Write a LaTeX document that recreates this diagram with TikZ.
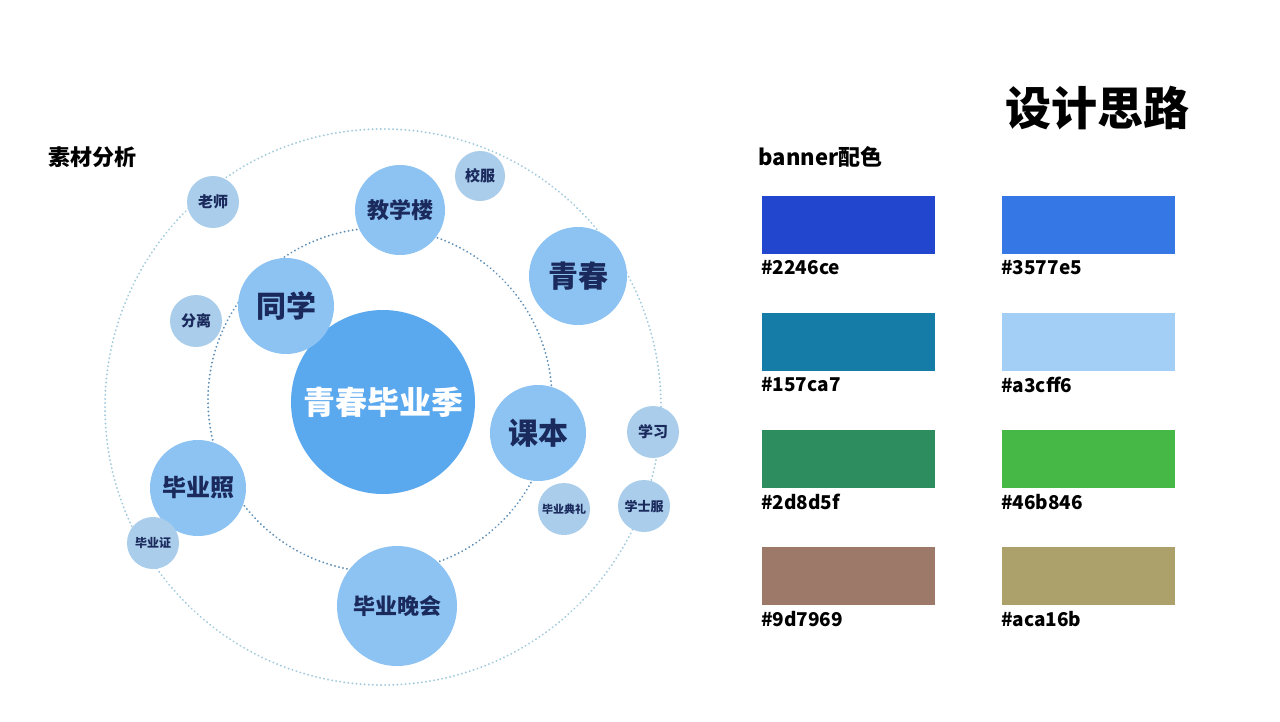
\documentclass[tikz,border=0pt]{standalone}
\usepackage{fontspec}
\setmainfont{Noto Sans CJK SC}
\begin{document}
\begin{tikzpicture}[x=1pt,y=-1pt,
  big/.style={circle,fill=#1,inner sep=0pt,font=\bfseries,text=navy},
  tx/.style={font=\bfseries,anchor=west}]
\definecolor{navy}{HTML}{1B2A5C}
\definecolor{cbig}{HTML}{5AA8EE}
\definecolor{cmid}{HTML}{8DC3F2}
\definecolor{csm}{HTML}{A9CDEA}
\definecolor{dots}{HTML}{9FC9DD}
\definecolor{dots2}{HTML}{5E8FB8}
\useasboundingbox[fill=white] (0,0) rectangle (1280,721);
\draw[dots,line width=2pt,dash pattern=on 0.1pt off 4pt,line cap=round] (383,407) circle (278);
\draw[dots2,line width=2pt,dash pattern=on 0.1pt off 4pt,line cap=round] (380,400) circle (172);
\node[big=cbig,minimum size=184pt,text=white,font=\bfseries\fontsize{32}{32}\selectfont] (c) at (383,402) {青春毕业季};
\node[big=cmid,minimum size=90pt,font=\bfseries\fontsize{22}{22}\selectfont] (a1) at (400,210) {教学楼};
\node[big=csm,minimum size=50pt,font=\bfseries\fontsize{15}{15}\selectfont] (a2) at (480,176) {校服};
\node[big=csm,minimum size=52pt,font=\bfseries\fontsize{15}{15}\selectfont] (a3) at (213,202) {老师};
\node[big=cmid,minimum size=98pt,font=\bfseries\fontsize{30}{30}\selectfont] (a4) at (578,276) {青春};
\node[big=cmid,minimum size=96pt,font=\bfseries\fontsize{30}{30}\selectfont] (a5) at (286,306) {同学};
\node[big=csm,minimum size=52pt,font=\bfseries\fontsize{15}{15}\selectfont] (a6) at (196,321) {分离};
\node[big=cmid,minimum size=96pt,font=\bfseries\fontsize{30}{30}\selectfont] (a7) at (538,433) {课本};
\node[big=csm,minimum size=52pt,font=\bfseries\fontsize{15}{15}\selectfont] (a8) at (653,432) {学习};
\node[big=csm,minimum size=52pt,font=\bfseries\fontsize{11}{11}\selectfont] (a9) at (564,509) {毕业典礼};
\node[big=csm,minimum size=52pt,font=\bfseries\fontsize{13}{13}\selectfont] (a10) at (644,506) {学士服};
\node[big=cmid,minimum size=96pt,font=\bfseries\fontsize{24}{24}\selectfont] (a11) at (198,488) {毕业照};
\node[big=csm,minimum size=52pt,font=\bfseries\fontsize{12}{12}\selectfont] (a12) at (153,543) {毕业证};
\node[big=cmid,minimum size=120pt,font=\bfseries\fontsize{22}{22}\selectfont] (a13) at (397,606) {毕业晚会};
\node[font=\bfseries\fontsize{22}{22}\selectfont] (t1) at (92,157) {素材分析};
\node[tx,font=\bfseries\fontsize{22}{22}\selectfont] (t2) at (755,157) {banner配色};
\node[font=\bfseries\fontsize{46}{46}\selectfont] (t3) at (1097,108) {设计思路};
\foreach \c/\x/\y/\n in {2246ce/762/196/s1,3577e5/1002/196/s2,157ca7/762/313/s3,a3cff6/1002/313/s4,2d8d5f/762/430/s5,46b846/1002/430/s6,9d7969/762/547/s7,aca16b/1002/547/s8}{
  \definecolor{tmp}{HTML}{\c}
  \fill[tmp] (\x,\y) rectangle ++(173,58);
  \node[tx,font=\bfseries\fontsize{19}{19}\selectfont,inner sep=0pt] (\n) at (\x-1,\y+72) {\#\c};
}
\end{tikzpicture}
\end{document}
